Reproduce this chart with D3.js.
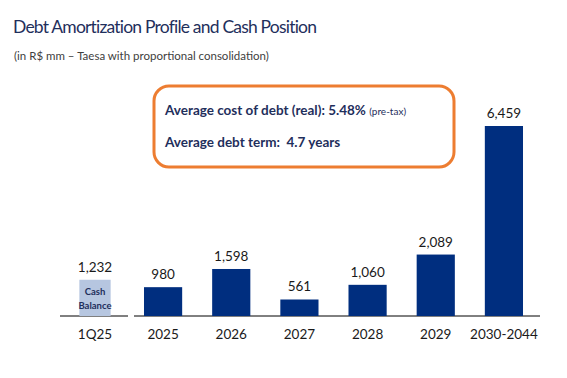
<!DOCTYPE html>
<html>
<head>
<meta charset="utf-8">
<script src="https://cdn.jsdelivr.net/npm/d3@7"></script>
<style>
  body { margin: 0; background: #fff; }
  svg { display: block; font-family: Lato, "Open Sans", sans-serif; }
</style>
</head>
<body>
<div id="chart"></div>
<script>
// Data
var cashCategories = ["1Q25"];
var cashValues = [1232];
var debtCategories = ["2025", "2026", "2027", "2028", "2029", "2030-2044"];
var debtValues = [980, 1598, 561, 1060, 2089, 6459];
var titleText = "Debt Amortization Profile and Cash Position";
var subtitleText = "(in R$ mm \u2013 Taesa with proportional consolidation)";

var W = 567, H = 378;
var navy = "#1f2f5c", bar = "#002e7f", cashFill = "#b6c6e0", orange = "#ed7d31";

var svg = d3.select("#chart").append("svg")
	.attr("width", W)
	.attr("height", H);

// Title
svg.append("text")
	.attr("x", 13).attr("y", 33)
	.style("font-size", "17.5px")
	.style("letter-spacing", "-0.8px")
	.attr("fill", navy)
	.text(titleText);

svg.append("text")
	.attr("x", 14).attr("y", 60)
	.style("font-size", "11.5px")
	.attr("fill", "#404040")
	.text(subtitleText);

// Scales
var baseY = 316;
var y = d3.scaleLinear().domain([0, d3.max(debtValues)]).range([baseY, 126]);
var xCash = d3.scaleBand().domain(cashCategories).range([61, 129]).paddingInner(0.54).paddingOuter(0.27);
var xDebt = d3.scaleBand().domain(debtCategories).range([129, 538]).paddingInner(0.44).paddingOuter(0.22);

// Baselines
svg.append("line")
	.attr("x1", 60).attr("x2", 128).attr("y1", baseY).attr("y2", baseY)
	.attr("stroke", "#000").attr("stroke-width", 1);
svg.append("line")
	.attr("x1", 134).attr("x2", 540).attr("y1", baseY).attr("y2", baseY)
	.attr("stroke", "#000").attr("stroke-width", 1);

// Cash bar
var cash = svg.append("g");
cash.selectAll("rect")
	.data(cashValues)
	.enter().append("rect")
	.attr("x", function(d, i){ return xCash(cashCategories[i]); })
	.attr("width", xCash.bandwidth())
	.attr("y", function(d){ return y(d); })
	.attr("height", function(d){ return baseY - y(d); })
	.attr("fill", cashFill);

cash.selectAll(".val")
	.data(cashValues)
	.enter().append("text")
	.attr("class", "val")
	.attr("x", function(d, i){ return xCash(cashCategories[i]) + xCash.bandwidth()/2; })
	.attr("y", function(d){ return y(d) - 8; })
	.attr("text-anchor", "middle")
	.style("font-size", "13.5px")
	.attr("fill", "#1a1a1a")
	.text(d3.format(","));

["Cash", "Balance"].forEach(function(t, i){
	cash.append("text")
		.attr("x", xCash(cashCategories[0]) + xCash.bandwidth()/2)
		.attr("y", y(cashValues[0]) + 15 + i*14)
		.attr("text-anchor", "middle")
		.style("font-size", "9.5px")
		.style("font-weight", "bold")
		.attr("fill", navy)
		.text(t);
});

// Debt bars
svg.selectAll(".bar")
	.data(debtValues)
	.enter().append("rect")
	.attr("class", "bar")
	.attr("x", function(d, i){ return xDebt(debtCategories[i]); })
	.attr("width", xDebt.bandwidth())
	.attr("y", function(d){ return y(d); })
	.attr("height", function(d){ return baseY - y(d); })
	.attr("fill", bar);

svg.selectAll(".dval")
	.data(debtValues)
	.enter().append("text")
	.attr("class", "dval")
	.attr("x", function(d, i){ return xDebt(debtCategories[i]) + xDebt.bandwidth()/2; })
	.attr("y", function(d){ return y(d) - 8; })
	.attr("text-anchor", "middle")
	.style("font-size", "13.5px")
	.attr("fill", "#1a1a1a")
	.text(d3.format(","));

// Category labels
var allCats = cashCategories.concat(debtCategories);
svg.selectAll(".cat")
	.data(allCats)
	.enter().append("text")
	.attr("class", "cat")
	.attr("x", function(d, i){ return i === 0 ? xCash(d) + xCash.bandwidth()/2 : xDebt(d) + xDebt.bandwidth()/2; })
	.attr("y", 339)
	.attr("text-anchor", "middle")
	.style("font-size", "13.5px")
	.attr("fill", "#1a1a1a")
	.text(function(d){ return d; });

// Info box
svg.append("rect")
	.attr("x", 154).attr("y", 86)
	.attr("width", 300).attr("height", 81)
	.attr("rx", 15).attr("ry", 15)
	.attr("fill", "#fff")
	.attr("stroke", orange)
	.attr("stroke-width", 3);

var l1 = svg.append("text")
	.attr("x", 165).attr("y", 115)
	.style("font-size", "13.5px")
	.style("font-weight", "bold")
	.attr("fill", navy);
l1.append("tspan").text("Average cost of debt (real): 5.48% ");
l1.append("tspan").style("font-size", "10px").style("font-weight", "normal").text("(pre-tax)");

svg.append("text")
	.attr("x", 165).attr("y", 147)
	.style("font-size", "13.5px")
	.style("font-weight", "bold")
	.attr("fill", navy)
	.attr("xml:space", "preserve")
	.text("Average debt term:  4.7 years");
</script>
</body>
</html>
